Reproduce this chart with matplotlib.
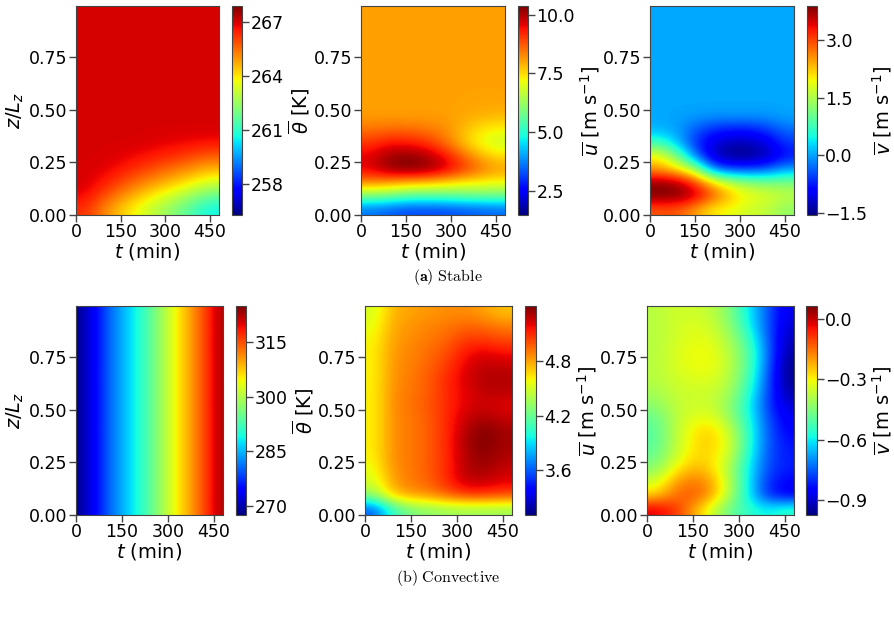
import numpy as np
import matplotlib
matplotlib.use("Agg")
import matplotlib.pyplot as plt

# ---------------- data ----------------
# grids: t cell centres (min) and z/Lz cell centres (16 rows, bottom -> top)
t_centres = [30, 90, 150, 210, 270, 330, 390, 450]
t_centres_fine = [15, 45, 75, 105, 135, 165, 195, 225, 255, 285, 315, 345, 375, 405, 435, 465]
t_max = 480
z_max = 0.995
n_z = 16

# (a) stable, potential temperature [K]
stable_theta = [
    [266.3, 265.3, 264.4, 263.6, 262.9, 262.2, 261.4, 260.6],
    [266.8, 266.0, 265.2, 264.5, 263.8, 263.2, 262.5, 261.8],
    [267.0, 266.6, 266.0, 265.4, 264.9, 264.4, 263.9, 263.3],
    [267.0, 266.9, 266.6, 266.2, 265.8, 265.4, 265.0, 264.6],
    [267.0, 267.0, 266.9, 266.7, 266.5, 266.3, 266.0, 265.7],
    [267.0, 267.0, 267.0, 267.0, 266.9, 266.8, 266.7, 266.6],
    [267.0, 267.0, 267.0, 267.0, 267.0, 267.0, 267.0, 267.0],
    [267.0, 267.0, 267.0, 267.0, 267.0, 267.0, 267.0, 267.0],
    [267.0, 267.0, 267.0, 267.0, 267.0, 267.0, 267.0, 267.0],
    [267.0, 267.0, 267.0, 267.0, 267.0, 267.0, 267.0, 267.0],
    [267.0, 267.0, 267.0, 267.0, 267.0, 267.0, 267.0, 267.0],
    [267.0, 267.0, 267.0, 267.0, 267.0, 267.0, 267.0, 267.0],
    [267.0, 267.0, 267.0, 267.0, 267.0, 267.0, 267.0, 267.0],
    [267.0, 267.0, 267.0, 267.0, 267.0, 267.0, 267.0, 267.0],
    [267.0, 267.0, 267.0, 267.0, 267.0, 267.0, 267.0, 267.0],
    [267.0, 267.0, 267.0, 267.0, 267.0, 267.0, 267.0, 267.0],
]

# (a) stable, u [m/s]
stable_u = [
    [3.6, 3.4, 3.2, 3.2, 3.2, 3.3, 3.4, 3.5],
    [6.0, 5.9, 5.6, 5.5, 5.6, 5.7, 5.8, 5.8],
    [8.3, 8.1, 7.9, 7.8, 7.6, 7.4, 7.3, 7.2],
    [9.6, 10.2, 10.4, 10.3, 9.9, 9.2, 8.6, 8.1],
    [9.6, 10.1, 10.3, 10.1, 9.6, 8.8, 8.0, 7.5],
    [9.1, 9.4, 9.4, 9.2, 8.7, 7.9, 7.2, 6.8],
    [8.5, 8.6, 8.6, 8.5, 8.3, 7.9, 7.4, 7.2],
    [8.1, 8.1, 8.1, 8.1, 8.1, 8.0, 7.9, 7.8],
    [8.05, 8.05, 8.05, 8.05, 8.05, 8.05, 8.0, 8.0],
    [8.05, 8.05, 8.05, 8.05, 8.05, 8.05, 8.05, 8.05],
    [8.05, 8.05, 8.05, 8.05, 8.05, 8.05, 8.05, 8.05],
    [8.05, 8.05, 8.05, 8.05, 8.05, 8.05, 8.05, 8.05],
    [8.05, 8.05, 8.05, 8.05, 8.05, 8.05, 8.05, 8.05],
    [8.05, 8.05, 8.05, 8.05, 8.05, 8.05, 8.05, 8.05],
    [8.05, 8.05, 8.05, 8.05, 8.05, 8.05, 8.05, 8.05],
    [8.05, 8.05, 8.05, 8.05, 8.05, 8.05, 8.05, 8.05],
]

# (a) stable, v [m/s]
stable_v = [
    [2.9, 2.9, 2.5, 2.0, 1.9, 1.7, 1.6, 1.3],
    [3.9, 3.9, 3.6, 2.9, 2.3, 1.9, 1.8, 1.6],
    [3.8, 3.7, 3.1, 2.2, 1.6, 1.3, 1.2, 1.2],
    [2.5, 2.1, 1.5, -0.2, -0.5, -0.5, -0.4, 0.0],
    [2.0, 1.2, -0.2, -1.2, -1.5, -1.5, -1.3, -0.8],
    [0.8, 0.2, -0.6, -1.1, -1.3, -1.3, -1.1, -0.6],
    [0.1, 0.0, -0.4, -0.7, -0.8, -0.8, -0.6, -0.3],
    [0.03, 0.0, -0.05, -0.1, -0.1, -0.1, -0.1, 0.0],
    [0.03, 0.03, 0.03, 0.03, 0.03, 0.03, 0.03, 0.03],
    [0.03, 0.03, 0.03, 0.03, 0.03, 0.03, 0.03, 0.03],
    [0.03, 0.03, 0.03, 0.03, 0.03, 0.03, 0.03, 0.03],
    [0.03, 0.03, 0.03, 0.03, 0.03, 0.03, 0.03, 0.03],
    [0.03, 0.03, 0.03, 0.03, 0.03, 0.03, 0.03, 0.03],
    [0.03, 0.03, 0.03, 0.03, 0.03, 0.03, 0.03, 0.03],
    [0.03, 0.03, 0.03, 0.03, 0.03, 0.03, 0.03, 0.03],
    [0.03, 0.03, 0.03, 0.03, 0.03, 0.03, 0.03, 0.03],
]

# (b) convective, potential temperature [K] (uniform in height)
conv_theta_profile = [269.0, 272.5, 276.0, 280.0, 283.0, 286.0, 289.0, 292.0,
                      296.0, 299.5, 303.5, 307.0, 310.5, 314.0, 318.0, 322.0]

# (b) convective, u [m/s]
conv_u = [
    [3.6, 4.05, 4.25, 4.3, 4.35, 4.35, 4.35, 4.35],
    [4.3, 4.7, 4.8, 4.85, 4.95, 5.05, 5.05, 5.0],
    [4.5, 4.8, 4.9, 4.95, 5.1, 5.25, 5.25, 5.2],
    [4.55, 4.83, 4.9, 4.97, 5.1, 5.3, 5.33, 5.25],
    [4.6, 4.85, 4.9, 4.97, 5.1, 5.3, 5.37, 5.3],
    [4.6, 4.85, 4.9, 4.97, 5.1, 5.32, 5.4, 5.32],
    [4.6, 4.85, 4.9, 4.97, 5.1, 5.3, 5.4, 5.32],
    [4.6, 4.85, 4.9, 4.97, 5.1, 5.25, 5.3, 5.25],
    [4.6, 4.85, 4.92, 4.98, 5.1, 5.2, 5.25, 5.2],
    [4.6, 4.85, 4.9, 4.97, 5.1, 5.2, 5.28, 5.28],
    [4.6, 4.83, 4.9, 4.97, 5.1, 5.22, 5.3, 5.3],
    [4.6, 4.83, 4.88, 4.95, 5.05, 5.2, 5.27, 5.25],
    [4.6, 4.82, 4.87, 4.93, 5.0, 5.15, 5.2, 5.15],
    [4.58, 4.8, 4.85, 4.9, 4.95, 5.05, 5.05, 5.0],
    [4.55, 4.78, 4.83, 4.87, 4.9, 4.95, 4.93, 4.88],
    [4.5, 4.75, 4.8, 4.82, 4.85, 4.85, 4.8, 4.72],
]

# (b) convective, v [m/s]
conv_v = [
    [-0.02, -0.08, -0.20, -0.35, -0.48, -0.55, -0.60, -0.55],
    [-0.25, -0.15, -0.12, -0.20, -0.40, -0.60, -0.80, -0.86],
    [-0.35, -0.20, -0.15, -0.20, -0.38, -0.60, -0.80, -0.85],
    [-0.43, -0.30, -0.22, -0.26, -0.40, -0.60, -0.77, -0.82],
    [-0.48, -0.36, -0.27, -0.27, -0.36, -0.57, -0.76, -0.82],
    [-0.50, -0.38, -0.28, -0.25, -0.34, -0.55, -0.75, -0.83],
    [-0.50, -0.38, -0.29, -0.26, -0.36, -0.55, -0.75, -0.85],
    [-0.48, -0.38, -0.33, -0.32, -0.42, -0.57, -0.76, -0.87],
    [-0.43, -0.37, -0.35, -0.36, -0.43, -0.58, -0.78, -0.90],
    [-0.40, -0.36, -0.35, -0.35, -0.40, -0.55, -0.76, -0.94],
    [-0.38, -0.35, -0.33, -0.33, -0.38, -0.52, -0.75, -0.96],
    [-0.38, -0.34, -0.31, -0.31, -0.37, -0.50, -0.73, -0.96],
    [-0.38, -0.34, -0.31, -0.31, -0.38, -0.50, -0.72, -0.94],
    [-0.38, -0.35, -0.32, -0.33, -0.40, -0.53, -0.74, -0.92],
    [-0.38, -0.35, -0.33, -0.35, -0.43, -0.58, -0.75, -0.90],
    [-0.38, -0.35, -0.35, -0.37, -0.45, -0.60, -0.75, -0.88],
]

# colour ranges and colourbar ticks
limits = {
    "stable_theta": (256.3, 267.9), "stable_u": (1.46, 10.38), "stable_v": (-1.55, 3.88),
    "conv_theta": (267.5, 325.0), "conv_u": (3.11, 5.40), "conv_v": (-0.975, 0.066),
}
cbar_ticks = {
    "stable_theta": [258, 261, 264, 267], "stable_u": [2.5, 5.0, 7.5, 10.0],
    "stable_v": [-1.5, 0.0, 1.5, 3.0], "conv_theta": [270, 285, 300, 315],
    "conv_u": [3.6, 4.2, 4.8], "conv_v": [-0.9, -0.6, -0.3, 0.0],
}
x_ticks = [0, 150, 300, 450]
y_ticks = [0.0, 0.25, 0.5, 0.75]

lab_theta = r"$\overline{\theta}$ [K]"
lab_u = r"$\overline{u}$ [m s$^{-1}$]"
lab_v = r"$\overline{v}$ [m s$^{-1}$]"

# ---------------- figure ----------------
W, H = 894, 619
fig = plt.figure(figsize=(W / 100, H / 100), dpi=100)
plt.rcParams["mathtext.fontset"] = "dejavusans"


def px_rect(x0, y0, x1, y1):
    return [x0 / W, 1 - y1 / H, (x1 - x0) / W, (y1 - y0) / H]


panels = [
    # key, data, axes px box, cbar px box, label, ylabel
    ("stable_theta", np.array(stable_theta), (76, 6, 219, 215), (232, 6, 242, 215), lab_theta, True),
    ("stable_u", np.array(stable_u), (361, 6, 505, 215), (518, 6, 528, 215), lab_u, False),
    ("stable_v", np.array(stable_v), (650, 6, 794, 215), (807, 6, 817, 215), lab_v, False),
    ("conv_theta", np.tile(np.array(conv_theta_profile), (n_z, 1)), (76, 306, 223, 515), (236, 306, 246, 515), lab_theta, True),
    ("conv_u", np.array(conv_u), (365, 306, 512, 515), (525, 306, 536, 515), lab_u, False),
    ("conv_v", np.array(conv_v), (647, 306, 794, 515), (806, 306, 817, 515), lab_v, False),
]

edge = "#444444"
for key, data, abox, cbox, clabel, ylab in panels:
    ax = fig.add_axes(px_rect(*abox))
    cax = fig.add_axes(px_rect(*cbox))
    vmin, vmax = limits[key]
    im = ax.imshow(data, origin="lower", extent=[0, t_max, 0, z_max], aspect="auto",
                   cmap="jet", vmin=vmin, vmax=vmax, interpolation="bicubic")
    ax.set_xlim(0, t_max)
    ax.set_ylim(0, z_max)
    ax.set_xticks(x_ticks)
    ax.set_yticks(y_ticks)
    ax.tick_params(labelsize=12.5, length=5, width=1, color=edge, pad=1)
    ax.set_xlabel(r"$t$ (min)", fontsize=14, labelpad=0)
    if ylab:
        ax.set_ylabel(r"$z/L_z$", fontsize=14, labelpad=2)
    for s in ax.spines.values():
        s.set_color(edge)
    cb = fig.colorbar(im, cax=cax)
    cb.set_ticks(cbar_ticks[key])
    cb.ax.tick_params(labelsize=12.5, length=5, width=1, color=edge, pad=1)
    cb.outline.set_edgecolor(edge)
    cb.set_label(clabel, fontsize=14, labelpad=2)

fig.text(448 / W, 1 - 277 / H, r"$\mathbf{(a)}\ \mathrm{Stable}$", ha="center", va="center",
         fontsize=11.5, math_fontfamily="cm")
fig.text(448 / W, 1 - 578 / H, r"$\mathrm{(b)\ Convective}$", ha="center", va="center",
         fontsize=11.5, math_fontfamily="cm")

fig.savefig("out.png", dpi=100)
